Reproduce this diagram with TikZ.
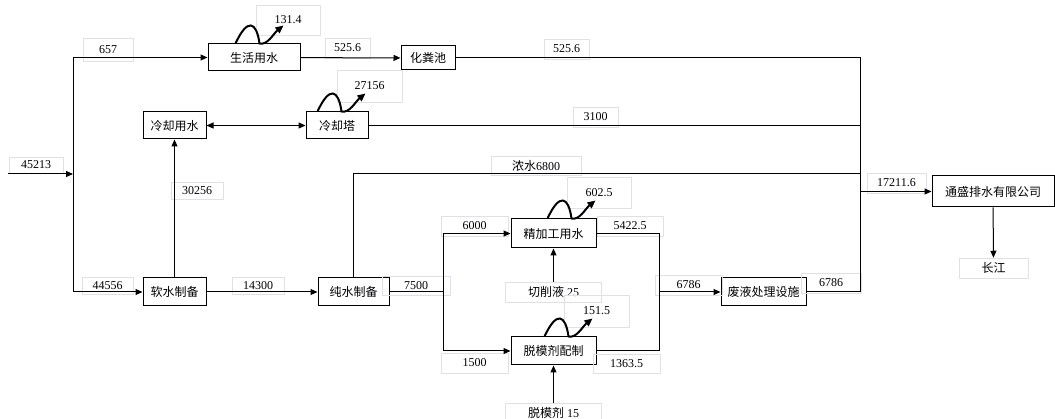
\documentclass[tikz,border=0pt]{standalone}
\usepackage{fontspec}
\setmainfont{Liberation Serif}
\newfontfamily\cjk{Noto Sans CJK SC}
\usepackage{tikz}
\usetikzlibrary{arrows.meta, positioning}

\tikzset{
  unit/.style={draw, line width=1pt, inner sep=0pt, minimum height=27pt, font=\fontsize{12}{14}\selectfont\cjk},
  tag/.style={draw=blue!10!gray!22, line width=0.5pt, inner sep=0pt, font=\fontsize{12}{14}\selectfont},
  pipe/.style={line width=1pt},
  vapor/.style={line width=2pt, -{Triangle[length=8pt,width=7pt]}}
}

\begin{document}
\begin{tikzpicture}[x=1pt, y=-1pt, >={Triangle[length=7pt,width=6pt]}]
  \useasboundingbox (0,0) rectangle (1055,419);

  % process units
  \node[unit, minimum width=92pt] (life) at (254,57.5) {生活用水};
  \node[unit, minimum width=54pt, minimum height=24pt] (septic) at (428,58) {化粪池};
  \node[unit, minimum width=63pt] (coolUse) at (174.5,125.5) {冷却用水};
  \node[unit, minimum width=62pt] (tower) at (337,125.5) {冷却塔};
  \node[unit, minimum width=63pt, minimum height=28pt] (soft) at (174.5,292) {软水制备};
  \node[unit, minimum width=71pt, minimum height=28pt] (pure) at (353.5,292) {纯水制备};
  \node[unit, minimum width=85pt, minimum height=29pt] (finish) at (553.5,233.5) {精加工用水};
  \node[unit, minimum width=85pt, minimum height=28pt] (mold) at (553.5,351) {脱模剂配制};
  \node[unit, minimum width=85pt, minimum height=28pt] (waste) at (763.5,292) {废液处理设施};
  \node[unit, minimum width=122pt, minimum height=31pt] (tongsheng) at (993,191.5) {通盛排水有限公司};

  % flow labels
  \node[tag, minimum width=54pt, minimum height=16pt] (tIn) at (36,165) {45213};
  \node[tag, minimum width=50pt, minimum height=23pt] (tLife) at (108,49.5) {657};
  \node[tag, minimum width=64pt, minimum height=30pt] (tLifeV) at (288,20) {131.4};
  \node[tag, minimum width=45pt, minimum height=20pt] (tSeptic) at (347.5,48) {525.6};
  \node[tag, minimum width=65pt, minimum height=32pt] (tTowerV) at (369.5,86) {27156};
  \node[tag, minimum width=52pt, minimum height=17pt] (tCool) at (197,190.5) {30256};
  \node[tag, minimum width=51pt, minimum height=17pt] (tSoft) at (107.5,285.5) {44556};
  \node[tag, minimum width=52pt, minimum height=17pt] (tPure) at (258,285.5) {14300};
  \node[tag, minimum width=45pt, minimum height=20pt] (tSepticOut) at (566.5,49) {525.6};
  \node[tag, minimum width=45pt, minimum height=20pt] (tTowerOut) at (595.5,117) {3100};
  \node[tag, minimum width=90pt, minimum height=19pt] (tBrine) at (536,165.5) {{\cjk 浓水}6800};
  \node[tag, minimum width=64pt, minimum height=31pt] (tFinishV) at (599,192.5) {602.5};
  \node[tag, minimum width=59pt, minimum height=20pt] (tOut) at (896.5,183) {17211.6};
  \node[tag, minimum width=68pt, minimum height=19pt] (tSplit) at (416,285.5) {7500};
  \node[tag, minimum width=67pt, minimum height=20pt] (tFinish) at (474.5,226) {6000};
  \node[tag, minimum width=67pt, minimum height=20pt] (tMold) at (474.5,363) {1500};
  \node[tag, minimum width=66pt, minimum height=20pt] (tFinishOut) at (630,226) {5422.5};
  \node[tag, minimum width=96pt, minimum height=20pt] (cutfluid) at (553.5,292) {{\cjk 切削液} 25};
  \node[tag, minimum width=65pt, minimum height=32pt] (tMoldV) at (596.5,311) {151.5};
  \node[tag, minimum width=67pt, minimum height=19pt] (tMoldOut) at (626.5,363.5) {1363.5};
  \node[tag, minimum width=67pt, minimum height=20pt] (tWaste) at (688.5,285) {6786};
  \node[tag, minimum width=60pt, minimum height=20pt] (tWasteOut) at (831,283) {6786};
  \node[tag, minimum width=96pt, minimum height=20pt] (agent) at (553.5,413) {{\cjk 脱模剂} 15};
  \node[tag, minimum width=69pt, minimum height=20pt, font=\fontsize{12}{14}\selectfont\cjk] (river) at (993.5,268) {长江};

  % junctions
  \coordinate (src) at (8,174);
  \coordinate (trunk) at (73,174);
  \coordinate (drain) at (860,0);
  \coordinate (brine) at (860,174);
  \coordinate (fork) at (443,292);
  \coordinate (merge) at (659,292);

  % supply side
  \draw[pipe, ->] (src) -- (trunk);
  \draw[pipe] (life -| trunk) -- (soft -| trunk);
  \draw[pipe, ->] (life -| trunk) -- (life);
  \draw[pipe, ->] (soft -| trunk) -- (soft);
  \draw[pipe, ->] (soft) -- (coolUse);
  \draw[pipe, <->] (coolUse) -- (tower);
  \draw[pipe, ->] (life) -- (septic);
  \draw[pipe, ->] (soft) -- (pure);
  \draw[pipe] (pure) -- (fork);
  \draw[pipe, ->] (fork) |- (finish);
  \draw[pipe, ->] (fork) |- (mold);
  \draw[pipe, ->] (cutfluid) -- (finish);
  \draw[pipe, ->] (agent) -- (mold);

  % discharge side
  \draw[pipe] (finish) -| (merge);
  \draw[pipe] (mold) -| (merge);
  \draw[pipe, ->] (merge) -- (waste);
  \draw[pipe] (septic) -- (septic -| drain) -- (waste -| drain) -- (waste);
  \draw[pipe] (tower) -- (tower -| drain);
  \draw[pipe] (pure) |- (brine);
  \draw[pipe, ->] (tongsheng -| drain) -- (tongsheng);
  \draw[pipe, ->] (tongsheng) -- (river);

  % evaporation losses
  \foreach \n/\dx in {life/28, tower/12, finish/37, mold/34}
    \draw[vapor] ([xshift=\dx]\n.north west) .. controls +(12,-26) and +(-3,-22) .. ++(24,0)
      .. controls +(8,2) and +(-10,8) .. ++(24,-18);
\end{tikzpicture}
\end{document}
